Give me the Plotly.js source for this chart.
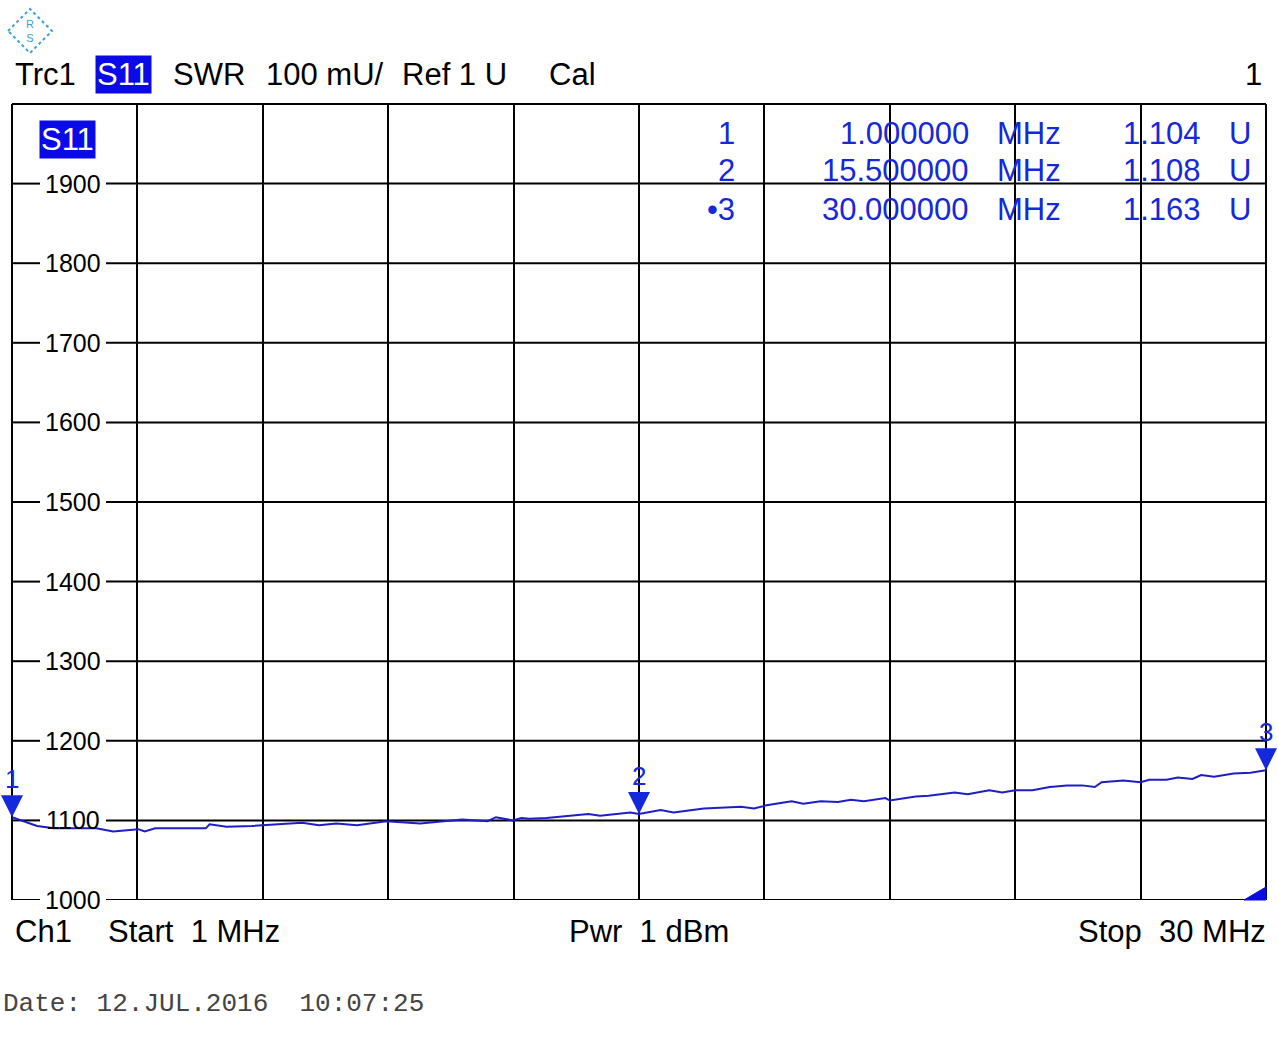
<!DOCTYPE html>
<html>
<head>
<meta charset="utf-8">
<script src="https://cdn.plot.ly/plotly-3.0.1.min.js"></script>
<style>
  body { margin: 0; background: #fff; }
  #chart { width: 1278px; height: 1052px; }
</style>
</head>
<body>
<div id="chart"></div>
<script>
// S11 SWR trace, values in mU, frequency in MHz
const freqMHz = [1, 1.58, 1.97, 2.95, 3.34, 3.92, 4.07, 4.31, 5.48, 5.57, 5.96, 6.55, 7.71, 8.1, 8.5, 8.98,
    9.66, 10.44, 11.41, 12.0, 12.19, 12.58, 12.78, 12.97, 13.36, 14.33, 14.6, 15.04, 15.3, 15.5, 16.0, 16.3,
    17.0, 17.86, 18.16, 18.45, 19.03, 19.3, 19.7, 20.1, 20.4, 20.7, 21.2, 21.3, 21.9, 22.2, 22.8, 23.1,
    23.6, 23.9, 24.2, 24.6, 25.0, 25.4, 25.75, 26.04, 26.2, 26.7, 27.1, 27.3, 27.7, 27.96, 28.3, 28.5,
    28.8, 29.25, 29.64, 30.0];
const swrMilli = [1104, 1093, 1090, 1090, 1086, 1089, 1086, 1090, 1090, 1095, 1092, 1093, 1097, 1094, 1096, 1094,
    1099, 1096, 1101, 1099, 1104, 1100, 1103, 1102, 1103, 1108, 1106, 1108, 1110, 1108, 1113, 1110,
    1115, 1117, 1115, 1119, 1124, 1121, 1124, 1123, 1126, 1124, 1128, 1125, 1130, 1131, 1135, 1133,
    1138, 1135, 1138, 1138, 1142, 1144, 1144, 1142, 1148, 1150, 1148, 1151, 1151, 1154, 1152, 1157,
    1155, 1159, 1160, 1163];

const markerLabels = ['1', '2', '3'];
const markerFreq = [1, 15.5, 30];
const markerSwr = [1104, 1108, 1163];
const markerFreqText = ['1.000000', '15.500000', '30.000000'];
const markerSwrText = ['1.104', '1.108', '1.163'];

const yTickVals = [1000, 1100, 1200, 1300, 1400, 1500, 1600, 1700, 1800, 1900];

const BLUE = '#1428dc';
const HILITE = '#0a0ae6';
const FONT = 'Liberation Sans, Arial, sans-serif';

// pixel -> paper helpers (plot area is 12..1266 x 104..900)
const px = p => (p - 12) / 1254;
const py = p => (900 - p) / 796;

let annotations = [];
let shapes = [];
const gridLine = {color: '#000', width: 2};

// horizontal grid drawn as two pieces so the label sits in a gap
yTickVals.forEach(v => {
    shapes.push(
        {type: 'line', xref: 'paper', yref: 'y', layer: 'below', x0: 0, x1: px(40), y0: v, y1: v, line: gridLine},
        {type: 'line', xref: 'paper', yref: 'y', layer: 'below', x0: px(106), x1: 1, y0: v, y1: v, line: gridLine}
    );
    annotations.push({
        xref: 'paper', yref: 'y', x: px(73), y: v, text: String(v),
        showarrow: false, xanchor: 'center', yanchor: 'middle',
        font: {family: FONT, size: 25, color: '#000'}
    });
});
// top, left and right frame
shapes.push(
    {type: 'line', xref: 'paper', yref: 'paper', layer: 'below', x0: 0, x1: 1, y0: 1, y1: 1, line: gridLine},
    {type: 'line', xref: 'paper', yref: 'paper', layer: 'below', x0: 0, x1: 0, y0: 0, y1: 1, line: gridLine},
    {type: 'line', xref: 'paper', yref: 'paper', layer: 'below', x0: 1, x1: 1, y0: 0, y1: 1, line: gridLine}
);

// marker arrows on the trace
markerLabels.forEach((lab, i) => {
    annotations.push({
        x: markerFreq[i], y: markerSwr[i], text: lab,
        showarrow: true, arrowhead: 2, arrowsize: 2.2, arrowwidth: 2,
        arrowcolor: BLUE, ax: 0, ay: -38, standoff: 0,
        font: {family: FONT, size: 26, color: BLUE}
    });
});

// marker table
const rowY = [133, 171, 209];
markerLabels.forEach((lab, i) => {
    let row = [
        {x: 737, anchor: 'right', text: (i === 2 ? '\u2022' : '') + lab},
        {x: 971, anchor: 'right', text: markerFreqText[i]},
        {x: 995, anchor: 'left', text: 'MHz'},
        {x: 1203, anchor: 'right', text: markerSwrText[i]},
        {x: 1227, anchor: 'left', text: 'U'}
    ];
    row.forEach(c => annotations.push({
        xref: 'paper', yref: 'paper', x: px(c.x), y: py(rowY[i]), text: c.text,
        showarrow: false, xanchor: c.anchor, yanchor: 'middle',
        font: {family: FONT, size: 31, color: BLUE}
    }));
});

// header / footer texts
const hdr = [
    {x: 13, y: 75, text: 'Trc1', anchor: 'left'},
    {x: 95, y: 75, text: 'S11', anchor: 'left', hl: true},
    {x: 171, y: 75, text: 'SWR', anchor: 'left'},
    {x: 264, y: 75, text: '100 mU/', anchor: 'left'},
    {x: 400, y: 75, text: 'Ref 1 U', anchor: 'left'},
    {x: 547, y: 75, text: 'Cal', anchor: 'left'},
    {x: 1264, y: 75, text: '1', anchor: 'right'},
    {x: 13, y: 931, text: 'Ch1', anchor: 'left'},
    {x: 106, y: 931, text: 'Start\u00a0\u00a01 MHz', anchor: 'left'},
    {x: 567, y: 931, text: 'Pwr\u00a0\u00a01 dBm', anchor: 'left'},
    {x: 1268, y: 931, text: 'Stop\u00a0\u00a030 MHz', anchor: 'right'}
];
hdr.forEach(h => annotations.push({
    xref: 'paper', yref: 'paper', x: px(h.x), y: py(h.y), text: h.text,
    showarrow: false, xanchor: h.anchor, yanchor: 'middle',
    bgcolor: h.hl ? HILITE : 'rgba(0,0,0,0)', borderpad: 1,
    font: {family: FONT, size: 31, color: h.hl ? '#fff' : '#000'}
}));

// trace label inside the grid
annotations.push({
    xref: 'paper', yref: 'paper', x: px(39), y: py(140), text: 'S11',
    showarrow: false, xanchor: 'left', yanchor: 'middle',
    bgcolor: HILITE, borderpad: 1,
    font: {family: FONT, size: 31, color: '#fff'}
});

annotations.push({
    xref: 'paper', yref: 'paper', x: px(1), y: py(1004),
    text: 'Date:\u00a012.JUL.2016\u00a0\u00a010:07:25',
    showarrow: false, xanchor: 'left', yanchor: 'middle',
    font: {family: 'Liberation Mono, Courier New, monospace', size: 26, color: '#444'}
});

// logo: small dashed diamond
annotations.push({
    xref: 'paper', yref: 'paper', x: px(30), y: py(31), text: 'R<br>S',
    showarrow: false, xanchor: 'center', yanchor: 'middle',
    font: {family: FONT, size: 11, color: '#3aa0d8'}
});

shapes.push(
    {
        type: 'path', xref: 'paper', yref: 'paper',
        path: `M ${px(8)} ${py(31)} L ${px(30)} ${py(9)} L ${px(52)} ${py(31)} L ${px(30)} ${py(53)} Z`,
        line: {color: '#3aa0d8', width: 2, dash: 'dot'}
    },
    {
        type: 'path', xref: 'paper', yref: 'paper',
        path: `M ${px(1244)} ${py(900)} L ${px(1266)} ${py(900)} L ${px(1266)} ${py(887)} Z`,
        fillcolor: HILITE, line: {color: HILITE, width: 1}
    }
);

let trace = {
    x: freqMHz,
    y: swrMilli,
    type: 'scatter',
    mode: 'lines',
    line: {color: '#1e1ec8', width: 2},
    hoverinfo: 'skip'
};

let layout = {
    width: 1278,
    height: 1052,
    margin: {l: 12, r: 12, t: 104, b: 152, pad: 0},
    paper_bgcolor: '#fff',
    plot_bgcolor: '#fff',
    showlegend: false,
    xaxis: {
        range: [1, 30],
        tick0: 1,
        dtick: 2.9,
        showticklabels: false,
        ticks: '',
        showgrid: true,
        gridcolor: '#000',
        gridwidth: 2,
        zeroline: false,
        showline: false
    },
    yaxis: {
        range: [1000, 2000],
        showticklabels: false,
        ticks: '',
        showgrid: false,
        zeroline: false,
        showline: false
    },
    annotations: annotations,
    shapes: shapes
};

Plotly.newPlot('chart', [trace], layout, {displayModeBar: false, staticPlot: true});
</script>
</body>
</html>
